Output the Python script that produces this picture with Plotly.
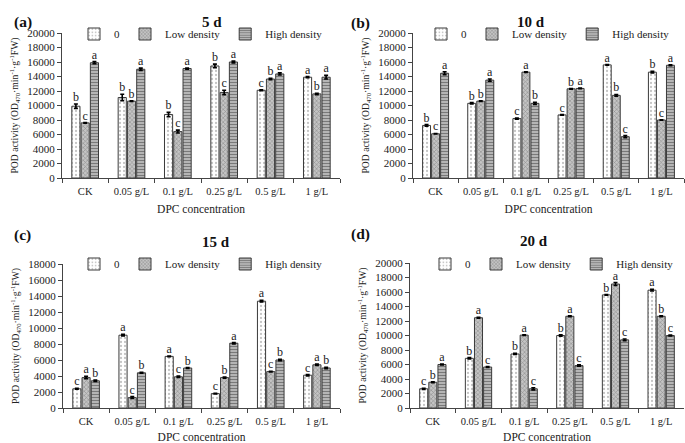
import plotly.graph_objects as go
from plotly.subplots import make_subplots

cats = ["CK", "0.05 g/L", "0.1 g/L", "0.25 g/L", "0.5 g/L", "1 g/L"]
series_names = ["0", "Low density", "High density"]

d5_zero = [9900, 11100, 8750, 15450, 12100, 13900]
d5_low = [7600, 10600, 6400, 11800, 13650, 11600]
d5_high = [15900, 15000, 15100, 16000, 14350, 13900]
d5_zero_err = [300, 450, 300, 250, 50, 80]
d5_low_err = [50, 50, 200, 300, 100, 100]
d5_high_err = [150, 150, 80, 120, 150, 250]
d5_zero_let = ["b", "b", "b", "b", "c", "a"]
d5_low_let = ["c", "b", "c", "c", "b", "b"]
d5_high_let = ["a", "a", "a", "a", "a", "a"]

d10_zero = [7250, 10300, 8200, 8700, 15600, 14600]
d10_low = [6100, 10600, 14600, 12300, 11400, 8000]
d10_high = [14450, 13500, 10300, 12350, 5700, 15550]
d10_zero_err = [120, 100, 80, 40, 40, 100]
d10_low_err = [40, 40, 40, 40, 120, 40]
d10_high_err = [200, 150, 150, 40, 150, 50]
d10_zero_let = ["b", "b", "c", "c", "a", "b"]
d10_low_let = ["c", "b", "a", "b", "b", "c"]
d10_high_let = ["a", "a", "b", "a", "c", "a"]

d15_zero = [2400, 9100, 6450, 1800, 13350, 4100]
d15_low = [3800, 1300, 3900, 3800, 4550, 5400]
d15_high = [3400, 4400, 5000, 8100, 6000, 5000]
d15_zero_err = [60, 100, 50, 30, 100, 80]
d15_low_err = [150, 120, 80, 60, 30, 80]
d15_high_err = [80, 60, 60, 80, 80, 80]
d15_zero_let = ["c", "a", "a", "c", "a", "c"]
d15_low_let = ["a", "c", "c", "b", "c", "a"]
d15_high_let = ["b", "b", "b", "a", "b", "b"]

d20_zero = [2650, 6850, 7450, 10000, 15600, 16250]
d20_low = [3550, 12450, 10050, 12650, 17100, 12650]
d20_high = [6000, 5650, 2650, 5850, 9400, 10000]
d20_zero_err = [80, 100, 80, 100, 50, 120]
d20_low_err = [60, 50, 40, 60, 200, 60]
d20_high_err = [50, 60, 150, 100, 120, 50]
d20_zero_let = ["c", "b", "b", "b", "b", "a"]
d20_low_let = ["b", "a", "a", "a", "a", "b"]
d20_high_let = ["a", "c", "c", "c", "c", "c"]

panels = [
    dict(title="5 d", tag="(a)", vals=[d5_zero, d5_low, d5_high],
         errs=[d5_zero_err, d5_low_err, d5_high_err],
         lets=[d5_zero_let, d5_low_let, d5_high_let], ymax=20000),
    dict(title="10 d", tag="(b)", vals=[d10_zero, d10_low, d10_high],
         errs=[d10_zero_err, d10_low_err, d10_high_err],
         lets=[d10_zero_let, d10_low_let, d10_high_let], ymax=20000),
    dict(title="15 d", tag="(c)", vals=[d15_zero, d15_low, d15_high],
         errs=[d15_zero_err, d15_low_err, d15_high_err],
         lets=[d15_zero_let, d15_low_let, d15_high_let], ymax=18000),
    dict(title="20 d", tag="(d)", vals=[d20_zero, d20_low, d20_high],
         errs=[d20_zero_err, d20_low_err, d20_high_err],
         lets=[d20_zero_let, d20_low_let, d20_high_let], ymax=20000),
]

W, H = 685, 443
FONT = "Liberation Serif, Times New Roman, serif"

# domains (pixel based layout)
xdom = [(62, 340), (413, 684), (63, 340), (410, 684)]
ydom = [(33, 178), (33, 178), (264, 408), (263, 408)]
title_pos = [(200, 12), (547, 12), (200, 242), (550, 241)]
tag_pos = [(12, 11), (360, 12), (12, 235), (360, 234)]
legend_pos = [(201, 34), (548, 34), (201, 264), (552, 264)]

styles = [
    dict(color="white", pattern=dict(shape=".", fgcolor="#8a8a8a", bgcolor="white", size=4, solidity=0.25)),
    dict(color="#b8b8b8", pattern=dict(shape="x", fgcolor="#555555", bgcolor="#c4c4c4", size=3, solidity=0.35)),
    dict(color="#8a8a8a", pattern=dict(shape="-", fgcolor="#2a2a2a", bgcolor="#c8c8c8", size=3, solidity=0.5)),
]

fig = make_subplots(rows=2, cols=2)
rc = [(1, 1), (1, 2), (2, 1), (2, 2)]
legend_ids = ["legend", "legend2", "legend3", "legend4"]

for p_i, p in enumerate(panels):
    r, c = rc[p_i]
    for s_i in range(3):
        st = styles[s_i]
        fig.add_trace(go.Bar(
            x=cats, y=p["vals"][s_i], name=series_names[s_i],
            offsetgroup=str(s_i), legend=legend_ids[p_i],
            marker=dict(color=st["color"], pattern=st["pattern"],
                        line=dict(color="#3a3a3a", width=1)),
            error_y=dict(type="data", array=p["errs"][s_i], color="black",
                         thickness=1.6, width=2),
        ), row=r, col=c)
    for s_i in range(3):
        tops = [v + e for v, e in zip(p["vals"][s_i], p["errs"][s_i])]
        fig.add_trace(go.Scatter(
            x=cats, y=tops, mode="text", text=p["lets"][s_i],
            textposition="top center", offsetgroup=str(s_i),
            showlegend=False, cliponaxis=False,
            textfont=dict(family=FONT, size=12, color="#222222"),
            hoverinfo="skip",
        ), row=r, col=c)

ytitle = "POD activity (OD<sub>470</sub>·min<sup>-1</sup>·g<sup>-1</sup>FW)"
annotations = []
for p_i, p in enumerate(panels):
    xa = "xaxis" if p_i == 0 else f"xaxis{p_i+1}"
    ya = "yaxis" if p_i == 0 else f"yaxis{p_i+1}"
    x0, x1 = xdom[p_i]
    y0, y1 = ydom[p_i]
    fig.layout[xa].update(
        domain=[x0 / W, x1 / W], showline=True, linecolor="#444", linewidth=1,
        ticks="outside", tickson="boundaries", ticklen=4, tickcolor="#444",
        showgrid=False, automargin=False, tickangle=0, ticklabelstandoff=3,
        tickfont=dict(family=FONT, size=10.5, color="#222"),
        title=dict(text="DPC concentration", font=dict(family=FONT, size=11.5, color="#222"), standoff=9),
    )
    fig.layout[ya].update(
        domain=[1 - y1 / H, 1 - y0 / H], range=[0, p["ymax"]], dtick=2000,
        tickformat="d", automargin=False,
        showline=True, linecolor="#444", linewidth=1, ticks="outside", ticklen=4,
        tickcolor="#444", showgrid=False, zeroline=False,
        tickfont=dict(family=FONT, size=11, color="#222"),
        title=dict(text=ytitle, font=dict(family=FONT, size=9.7, color="#222"), standoff=6),
    )
    tx, ty = title_pos[p_i]
    annotations.append(dict(text="<b>%s</b>" % p["title"], x=tx / W, y=1 - ty / H,
                            xref="paper", yref="paper", showarrow=False,
                            font=dict(family=FONT, size=15, color="#111")))
    gx, gy = tag_pos[p_i]
    annotations.append(dict(text="<b>%s</b>" % p["tag"], x=gx / W, y=1 - gy / H,
                            xref="paper", yref="paper", showarrow=False,
                            font=dict(family=FONT, size=15.5, color="#111")))

legend_layout = {}
for p_i, lid in enumerate(legend_ids):
    lx, ly = legend_pos[p_i]
    legend_layout[lid] = dict(
        x=lx / W, y=1 - ly / H, xanchor="center", yanchor="middle",
        orientation="h", bgcolor="rgba(0,0,0,0)", itemwidth=30,
        font=dict(family=FONT, size=11, color="#222"), traceorder="normal",
        itemclick=False, itemdoubleclick=False,
    )

fig.update_layout(
    width=W, height=H, margin=dict(l=0, r=0, t=0, b=0, autoexpand=False),
    paper_bgcolor="white", plot_bgcolor="white",
    barmode="group", bargap=0.4, bargroupgap=0.12,
    scattermode="group", scattergap=0.4,
    annotations=annotations, showlegend=True,
    **legend_layout,
)

fig.write_html("out.html", config={"displayModeBar": False},
               post_script="document.body.style.margin='0';")
